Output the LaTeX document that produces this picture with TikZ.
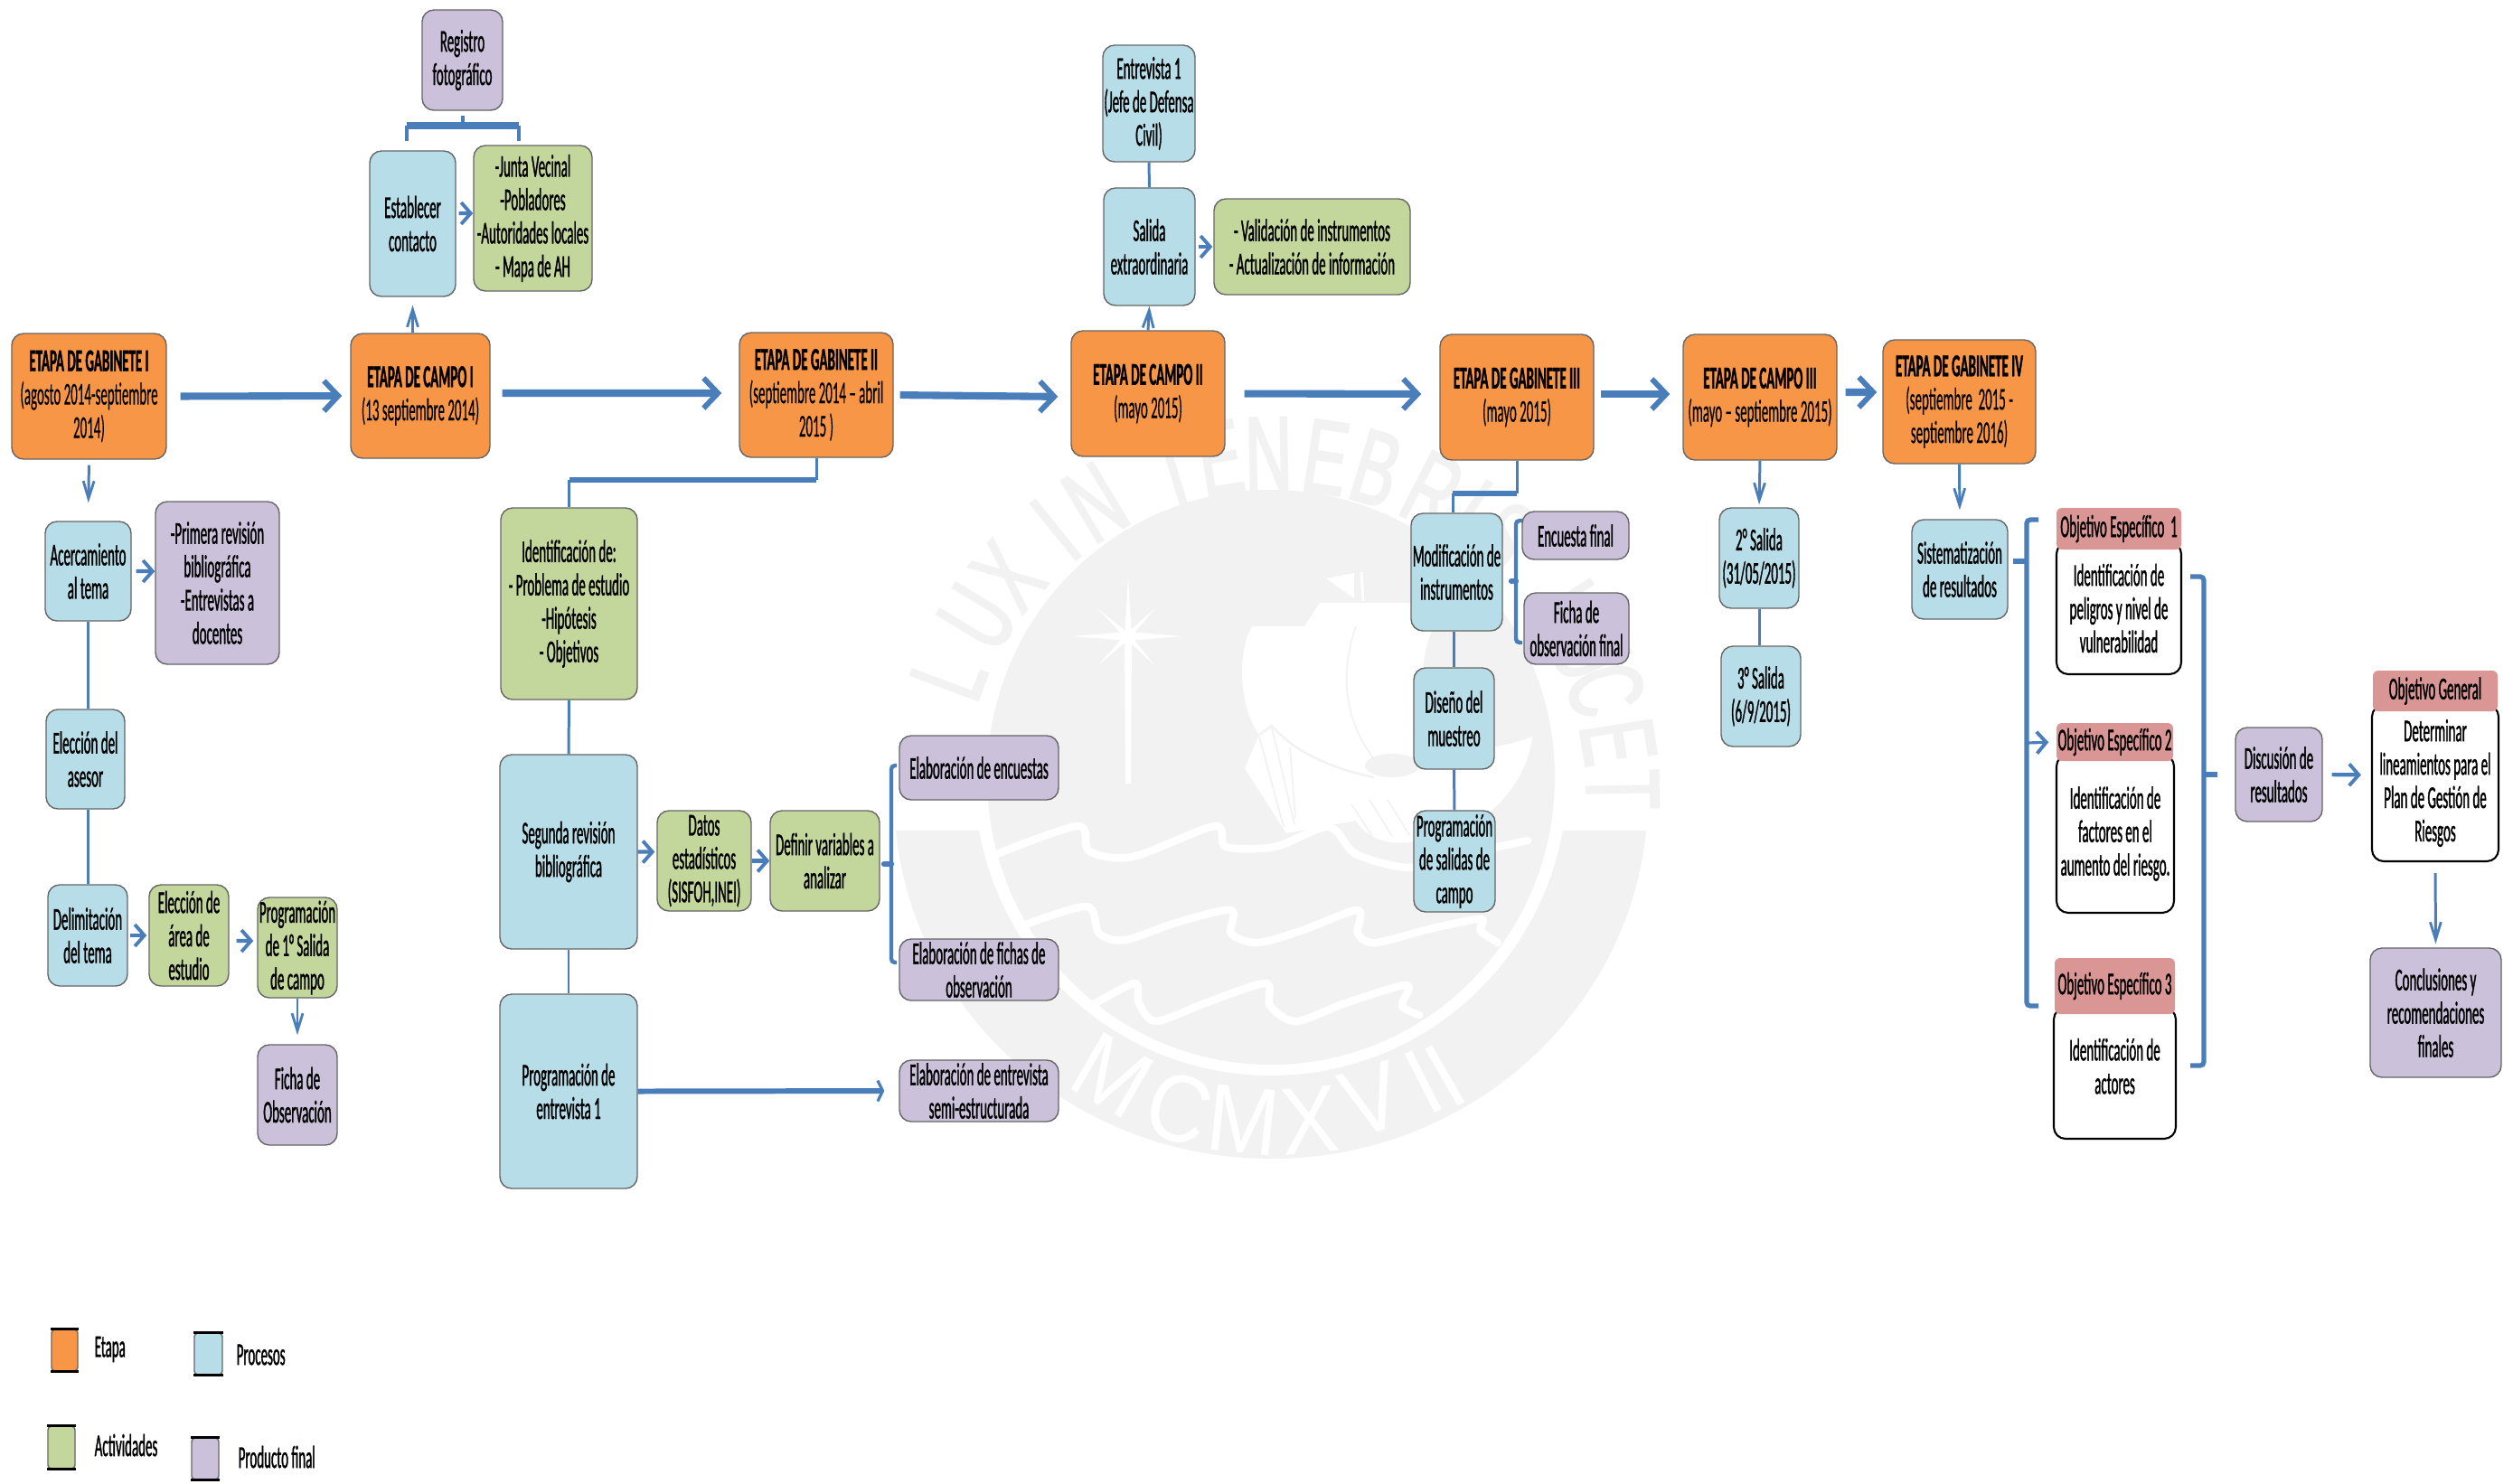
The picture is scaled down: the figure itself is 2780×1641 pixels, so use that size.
\documentclass[tikz,border=0pt]{standalone}
\usepackage{fontspec}
\setmainfont[FakeStretch=0.425,FakeBold=1]{Carlito}
\newfontfamily\thinf[FakeStretch=0.425,FakeBold=0.3]{Carlito}
\newfontfamily\wmf[FakeStretch=0.9]{Liberation Sans}
\newfontfamily\wmb[FakeStretch=0.62,FakeBold=2]{Liberation Sans}
\usetikzlibrary{arrows.meta,calc}
\definecolor{orangeb}{HTML}{F79646}
\definecolor{blueb}{HTML}{B7DEE8}
\definecolor{greenb}{HTML}{C3D69B}
\definecolor{purpleb}{HTML}{CCC1DA}
\definecolor{redb}{HTML}{D99694}
\definecolor{linkc}{HTML}{4A7EBB}
\definecolor{wm}{HTML}{F2F2F2}
\tikzset{
 box/.style={draw=black!60,line width=0.4pt,rounded corners=0.13cm,inner sep=0pt,align=center,text=black,
   font=\fontsize{10pt}{10.5pt}\selectfont},
 etapa/.style={box,fill=orangeb},
 proc/.style={box,fill=blueb},
 acti/.style={box,fill=greenb},
 prod/.style={box,fill=purpleb},
 objbody/.style={box,fill=white,draw=black,line width=0.6pt},
 objhead/.style={box,fill=redb,draw=none,rounded corners=0.06cm},
 swatch/.style={box,rounded corners=0.04cm},
 legtext/.style={inner sep=0pt,font=\fontsize{10pt}{10.5pt}\selectfont},
 bigarr/.style={draw=linkc,line width=2.3pt,-{Straight Barb[length=4.5pt,width=9.5pt,line width=1.7pt]}},
 midarr/.style={draw=linkc,line width=1.2pt,-{Straight Barb[length=3pt,width=6.8pt,line width=1.1pt]}},
 varr/.style={draw=linkc,line width=0.85pt,-{Straight Barb[length=5.5pt,width=3.4pt,line width=0.8pt]}},
 flatarr/.style={draw=linkc,line width=1.7pt,-{Straight Barb[length=1.6pt,width=6.5pt,line width=0.9pt]}},
 thinl/.style={draw=linkc,line width=0.85pt},
 thickl/.style={draw=linkc,line width=1.5pt},
 brk/.style={draw=linkc,line width=1.25pt,rounded corners=0.04cm},
 wave/.style={draw=white,line width=0.085cm,line cap=round,line join=round},
 wml/.style={inner sep=0pt,text=wm,font=\wmb\fontsize{33pt}{33pt}\selectfont},
 wmr/.style={inner sep=0pt,text=white,font=\wmf\fontsize{30pt}{30pt}\selectfont},
}
\newcommand{\bx}[7]{\node[#1,minimum width={(#5-#3)*0.01cm},minimum height={(#6-#4)*0.01cm}] (#2) at ({(#3+#5)/2},{(#4+#6)/2}) {#7};}
\newcommand{\swt}[6]{\node[swatch,fill=#2,minimum width={(#5-#3)*0.01cm},minimum height={(#6-#4)*0.01cm}] (#1) at ({(#3+#5)/2},{(#4+#6)/2}) {};
 \draw[line width=1pt,black] (#1.north west) -- (#1.north east);
 \draw[line width=1pt,black] (#1.south west) -- (#1.south east);}
\begin{document}
\begin{tikzpicture}[x=0.01cm,y=-0.01cm]
\useasboundingbox[fill=white] (0,0) rectangle (2780,1641);
% ---------- watermark
\begin{scope}
 \clip (900,919) rectangle (1900,1320);
 \fill[wm] (1406,880) ellipse [x radius=417,y radius=402];
\end{scope}
\fill[white] (1406,860) ellipse [x radius=328,y radius=330];
\fill[wm] (1406,860) ellipse [x radius=314,y radius=318];
\foreach \l/\a in {L/159.5,U/148.6,X/140,I/129,N/121,T/107,E/99,N/91,E/81.5,B/73,R/63,I/56,S/49,L/33,U/25,C/18,E/9,T/1}{
 \node[wml,rotate=\a-90] (wm\a) at ({1410+385*cos(\a)},{880-378*sin(\a)}) {\l};
}
\foreach \l/\x/\y/\r in {M/1231/1190/-30,C/1304/1227/-18,M/1376/1240/-6,X/1449/1240/5,V/1517/1217/17,I/1575/1197/27,I/1599/1190/30}{
 \node[wmr,rotate=\r] (wmr\x) at (\x,\y) {\l};
}
% star
\fill[white] (1248,640) -- (1252,704) -- (1251,867) -- (1245,867) -- (1244,704) -- cycle;
\fill[white] (1186,704) -- (1248,699) -- (1309,704) -- (1248,709) -- cycle;
\fill[white] (1214,673) -- (1250,702) -- (1278,737) -- (1245,706) -- cycle;
\fill[white] (1278,673) -- (1250,706) -- (1214,737) -- (1245,702) -- cycle;
% ship: sails and hull
\fill[white] (1385,693) -- (1443,693) -- (1460,667) -- (1600,667) .. controls (1570,710) and (1560,780) .. (1600,830)
  .. controls (1640,830) and (1670,825) .. (1695,815) .. controls (1690,860) and (1660,890) .. (1640,905)
  -- (1560,932) .. controls (1530,935) and (1510,925) .. (1500,908) -- (1423,922) -- (1377,850) -- (1393,813)
  .. controls (1375,790) and (1365,730) .. (1385,693) -- cycle;
\fill[wm] (1540,847) ellipse [x radius=30,y radius=13];
\draw[wm,line width=0.5pt] (1500,693) .. controls (1480,750) and (1490,800) .. (1520,840);
\draw[wm,line width=0.7pt] (1393,813) -- (1407,803) .. controls (1430,830) and (1470,850) .. (1520,860);
\draw[wm,line width=0.5pt] (1393,815) -- (1420,915) (1407,805) -- (1432,912) (1427,827) -- (1433,905);
\draw[wm,line width=0.5pt] (1495,890) -- (1518,925) (1515,885) -- (1540,925) (1535,885) -- (1560,925);
\fill[white] (1467,640) -- (1498,634) -- (1498,662) -- cycle;
\draw[white,line width=0.03cm] (1506,633) -- (1508,665);
% waves
\draw[wave] plot[smooth] coordinates {(1095,948) (1192,914) (1205,942) (1253,948) (1344,914) (1356,937) (1410,937) (1470,915) (1500,945) (1560,960) (1620,945) (1690,930)};
\draw[wave] plot[smooth] coordinates {(1129,1025) (1202,1003) (1216,1033) (1245,1040) (1304,1020) (1362,1007) (1362,1033) (1391,1043) (1439,1030) (1502,1007) (1502,1033) (1522,1043) (1585,1027) (1638,1017) (1638,1030) (1657,1043)};
\draw[wave] plot[smooth] coordinates {(1207,1113) (1255,1088) (1260,1110) (1279,1130) (1333,1110) (1400,1088) (1405,1113) (1434,1130) (1488,1110) (1556,1090) (1551,1113) (1570,1123)};
% ---------- boxes
\bx{prod}{reg}{467}{11}{556}{122}{Registro\\fotográfico}
\bx{proc}{est}{409}{167}{504}{328}{Establecer\\contacto}
\bx{acti}{jun}{524}{161}{655}{322}{-Junta Vecinal\\-Pobladores\\-Autoridades locales\\- Mapa de AH}
\bx{etapa}{gab1}{13}{369}{184}{508}{\textbf{ETAPA DE GABINETE I}\\{\thinf (agosto 2014-septiembre}\\{\thinf 2014)}}
\bx{etapa}{cam1}{388}{369}{542}{507}{\textbf{ETAPA DE CAMPO I}\\{\thinf (13 septiembre 2014)}}
\bx{etapa}{gab2}{818}{368}{988}{506}{\textbf{ETAPA DE GABINETE II}\\{\thinf (septiembre 2014 – abril}\\{\thinf 2015 )}}
\bx{etapa}{cam2}{1185}{366}{1355}{505}{\textbf{ETAPA DE CAMPO II}\\{\thinf (mayo 2015)}}
\bx{etapa}{gab3}{1593}{370}{1763}{509}{\textbf{ETAPA DE GABINETE III}\\{\thinf (mayo 2015)}}
\bx{etapa}{cam3}{1862}{370}{2032}{509}{\textbf{ETAPA DE CAMPO III}\\{\thinf (mayo – septiembre 2015)}}
\bx{etapa}{gab4}{2083}{376}{2252}{513}{\textbf{ETAPA DE GABINETE IV}\\{\thinf (septiembre\ \ 2015 -}\\{\thinf septiembre 2016)}}
\bx{proc}{ace}{50}{577}{145}{687}{Acercamiento\\al tema}
\bx{prod}{pri}{172}{555}{309}{735}{-Primera revisión\\bibliográfica\\-Entrevistas a\\docentes}
\bx{proc}{ele}{51}{785}{138}{895}{Elección del\\asesor}
\bx{proc}{del}{53}{979}{141}{1091}{Delimitación\\del tema}
\bx{acti}{are}{165}{979}{253}{1091}{Elección de\\área de\\estudio}
\bx{acti}{pr1}{285}{993}{373}{1104}{Programación\\de 1° Salida\\de campo}
\bx{prod}{fic}{285}{1156}{373}{1267}{Ficha de\\Observación}
\bx{acti}{ide}{554}{562}{705}{774}{Identificación de:\\- Problema de estudio\\-Hipótesis\\- Objetivos}
\bx{proc}{seg}{553}{835}{705}{1050}{Segunda revisión\\bibliográfica}
\bx{proc}{pen}{553}{1100}{705}{1315}{Programación de\\entrevista 1}
\bx{acti}{dat}{727}{897}{831}{1008}{Datos\\estadísticos\\(SISFOH,INEI)}
\bx{acti}{def}{852}{897}{973}{1008}{Definir variables a\\analizar}
\bx{prod}{een}{995}{814}{1171}{885}{Elaboración de encuestas}
\bx{prod}{efi}{995}{1039}{1171}{1107}{Elaboración de fichas de\\observación}
\bx{prod}{eem}{995}{1173}{1171}{1241}{Elaboración de entrevista\\semi-estructurada}
\bx{proc}{ent}{1220}{50}{1322}{179}{Entrevista 1\\(Jefe de Defensa\\Civil)}
\bx{proc}{sal}{1221}{208}{1322}{338}{Salida\\extraordinaria}
\bx{acti}{val}{1343}{220}{1560}{326}{- Validación de instrumentos\\- Actualización de información}
\bx{proc}{mod}{1561}{568}{1662}{698}{Modificación de\\instrumentos}
\bx{proc}{dis}{1564}{739}{1653}{851}{Diseño del\\muestreo}
\bx{proc}{psa}{1564}{897}{1654}{1009}{Programación\\de salidas de\\campo}
\bx{prod}{enf}{1684}{566}{1802}{619}{Encuesta final}
\bx{prod}{fif}{1686}{656}{1802}{735}{Ficha de\\observación final}
\bx{proc}{sa2}{1902}{562}{1990}{673}{2° Salida\\(31/05/2015)}
\bx{proc}{sa3}{1904}{715}{1992}{826}{3° Salida\\(6/9/2015)}
\bx{proc}{sis}{2115}{575}{2221}{685}{Sistematización\\de resultados}
\bx{objbody}{ob1}{2275}{600}{2413}{746}{Identificación de\\peligros y nivel de\\vulnerabilidad}
\bx{objhead}{oh1}{2275}{562}{2413}{608}{Objetivo Específico\ \ 1}
\bx{objbody}{ob2}{2275}{835}{2405}{1010}{Identificación de\\factores en el\\aumento del riesgo.}
\bx{objhead}{oh2}{2275}{800}{2404}{842}{Objetivo Específico 2}
\bx{objbody}{ob3}{2272}{1115}{2407}{1260}{Identificación de\\actores\\[-6pt]\mbox{}}
\bx{objhead}{oh3}{2273}{1060}{2406}{1122}{Objetivo Específico 3}
\bx{prod}{dsc}{2473}{805}{2569}{909}{Discusión de\\resultados}
\bx{objbody}{obg}{2624}{780}{2764}{953}{Determinar\\lineamientos para el\\Plan de Gestión de\\Riesgos}
\bx{objhead}{ohg}{2625}{742}{2763}{787}{Objetivo General}
\bx{prod}{con}{2622}{1049}{2767}{1192}{Conclusiones y\\recomendaciones\\finales}
% ---------- legend
\swt{lg1}{orangeb}{57}{1471}{86}{1517}
\swt{lg2}{blueb}{215}{1475}{246}{1521}
\swt{lg3}{greenb}{53}{1578}{83}{1625}
\swt{lg4}{purpleb}{212}{1591}{242}{1637}
\node[legtext,anchor=west] (lt1) at (104,1493) {Etapa};
\node[legtext,anchor=west] (lt2) at (261,1499) {Procesos};
\node[legtext,anchor=west] (lt3) at (104,1599) {Actividades};
\node[legtext,anchor=west] (lt4) at (263,1612) {Producto final};
% ---------- main arrows
\draw[bigarr,shorten <=0.15cm,shorten >=0.09cm] (gab1.east) -- (cam1.west);
\draw[bigarr,shorten <=0.13cm,shorten >=0.19cm] ([yshift=0.03cm]cam1.east) -- ([yshift=0.02cm]gab2.west);
\draw[bigarr,shorten <=0.07cm,shorten >=0.14cm] (gab2.east) -- ([yshift=-0.035cm]cam2.west);
\draw[bigarr,shorten <=0.21cm,shorten >=0.20cm] (cam2.east) -- ([yshift=0.035cm]gab3.west);
\draw[bigarr,shorten <=0.07cm,shorten >=0.14cm] ([yshift=0.035cm]gab3.east) -- ([yshift=0.035cm]cam3.west);
\draw[bigarr,shorten <=0.09cm,shorten >=0.06cm] ([yshift=0.055cm]cam3.east) -- ([yshift=0.105cm]gab4.west);
\draw[flatarr,shorten >=0.16cm] (pen.east) -- (eem.west);
% ---------- small arrows
\draw[midarr,shorten <=0.03cm] ([yshift=0.115cm]est.east) -- ([yshift=0.055cm]jun.west);
\draw[midarr,shorten <=0.05cm] (ace.east) -- ([yshift=0.13cm]pri.west);
\draw[midarr,shorten <=0.02cm,shorten >=0.02cm] (del.east) -- (are.west);
\draw[midarr,shorten <=0.08cm,shorten >=0.04cm] ([yshift=-0.06cm]are.east) -- ([yshift=0.075cm]pr1.west);
\draw[midarr,shorten >=0.02cm] (seg.east) -- ([yshift=0.10cm]dat.west);
\draw[midarr] (dat.east) -- (def.west);
\draw[midarr,shorten <=0.03cm,shorten >=0.01cm] (sal.east) -- (val.west);
\draw[midarr,shorten <=0.10cm,shorten >=0.11cm] (dsc.east) -- ([yshift=0.09cm]obg.west);
\draw[varr,shorten <=0.06cm,shorten >=0.20cm] (gab1.south) -- (ace.north);
\draw[varr,shorten >=0.09cm] (est.south |- cam1.north) -- (est.south);
\draw[varr] (cam2.north) -- (sal.south);
\draw[varr,shorten >=0.10cm] (pr1.south) -- (fic.north);
\draw[varr,shorten >=0.03cm] (cam3.south) -- (sa2.north);
\draw[varr,shorten >=0.10cm] (gab4.south) -- (sis.north);
\draw[varr,shorten <=0.12cm,shorten >=0.04cm] (obg.south) -- (con.north);
% ---------- connector lines
\draw[thinl] (ace.south) -- (ace.south |- ele.north);
\draw[thinl] (ele.south -| ace.south) -- (ace.south |- del.north);
\draw[thinl] (ide.south) -- (seg.north);
\draw[thinl] (seg.south) -- (pen.north);
\draw[thinl] (ent.south) -- (sal.north);
\draw[thinl] (dis.north |- mod.south) -- (dis.north);
\draw[thinl] (dis.south) -- (psa.north);
\draw[thinl] (sa2.south) -- (sa2.south |- sa3.north);
\coordinate (c1) at (902,531);
\draw[thinl] (gab2.south) -- (gab2.south |- c1);
\draw[thickl] (gab2.south |- c1) -- (c1 -| ide.north);
\draw[thinl] (c1 -| ide.north) -- (ide.north);
\coordinate (c2) at (1607,546);
\draw[thinl] (gab3.south) -- (gab3.south |- c2);
\draw[thickl] (gab3.south |- c2) -- (c2);
\draw[thinl] (c2) -- (c2 |- mod.north);
% ---------- brackets
\coordinate (b1a) at (450,156); \coordinate (b1b) at (450,139); \coordinate (b1c) at (574,139); \coordinate (b1d) at (574,156); \coordinate (b1e) at (512,128);
\draw[thickl,line width=2.1pt] (b1b) -- (b1c);
\draw[thinl,line width=1.1pt] (b1a) -- (b1b); \draw[thinl,line width=1.1pt] (b1c) -- (b1d); \draw[thinl,line width=1.1pt] (b1e) -- (b1e |- b1b);
\coordinate (b2a) at (992,847); \coordinate (b2b) at (986,847); \coordinate (b2c) at (986,1065); \coordinate (b2d) at (992,1065);
\draw[brk] (b2a) -- (b2b) -- (b2c) -- (b2d);
\coordinate (b2m) at (978,956); \draw[brk,line width=1.8pt,line cap=round] (b2m) -- (b2m -| b2b);
\coordinate (b3a) at (1684,576); \coordinate (b3b) at (1677,576); \coordinate (b3c) at (1677,711); \coordinate (b3d) at (1684,711);
\draw[brk] (b3a) -- (b3b) -- (b3c) -- (b3d);
\coordinate (b3m) at (1672,643); \draw[brk,line width=1.8pt,line cap=round] (b3m) -- (b3m -| b3b);
\coordinate (b4a) at (2255,575); \coordinate (b4b) at (2242,575); \coordinate (b4c) at (2242,1113); \coordinate (b4d) at (2255,1113);
\draw[brk,line width=1.5pt] (b4a) -- (b4b) -- (b4c) -- (b4d);
\coordinate (b4m) at (2227,621); \draw[brk,line width=1.8pt] (b4m) -- (b4m -| b4b);
\coordinate (b4t) at (2242,822);
\draw[midarr,line width=0.9pt,shorten >=0.08cm] (b4t) -- (oh2.west);
\coordinate (b5a) at (2423,638); \coordinate (b5b) at (2438,638); \coordinate (b5c) at (2438,1179); \coordinate (b5d) at (2423,1179);
\draw[brk,line width=1.5pt] (b5a) -- (b5b) -- (b5c) -- (b5d);
\coordinate (b5m) at (2453,857); \draw[brk,line width=1.8pt] (b5m) -- (b5m -| b5b);
\end{tikzpicture}
\end{document}
